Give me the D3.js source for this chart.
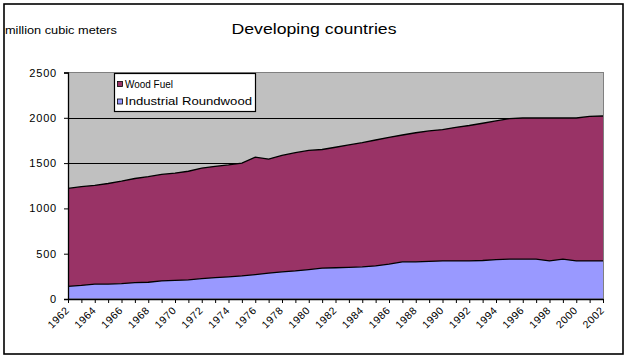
<!DOCTYPE html>
<html><head><meta charset="utf-8">
<script src="https://cdn.jsdelivr.net/npm/d3@7"></script>
<style>body{margin:0;background:#fff}svg{display:block}text{font-family:"Liberation Sans",Arial,sans-serif}</style>
</head><body><svg id="c" width="629" height="359"></svg>
<script>
const years = d3.range(1962, 2003);
const labelYears = [1962,1964,1966,1968,1970,1972,1974,1976,1978,1980,1982,1984,1986,1988,1990,1992,1994,1996,1998,2000,2002];
const industrialRoundwood = [140,150,165,165,170,180,185,200,205,210,225,235,245,255,270,285,300,310,325,340,345,350,355,365,385,410,410,415,420,420,420,425,435,440,440,440,420,440,420,420,420];
const woodFuel = [1080,1090,1090,1110,1130,1150,1165,1175,1185,1200,1220,1230,1235,1245,1295,1260,1285,1305,1315,1310,1330,1350,1370,1390,1400,1400,1425,1440,1450,1475,1495,1515,1530,1550,1558,1558,1578,1558,1578,1595,1600];
const yTicks = [0,500,1000,1500,2000,2500];
const seriesNames = ["Wood Fuel","Industrial Roundwood"];
const colors = {"Wood Fuel":"#993366","Industrial Roundwood":"#9999FF"};

const svg = d3.select("#c");
const L = 68, R = 603, T = 72.5, B = 299;
const x = d3.scaleLinear().domain([1962, 2002]).range([L, R]);
const y = d3.scaleLinear().domain([0, 2500]).range([B, T]);

// outer border
svg.append("rect").attr("x",4).attr("y",4).attr("width",619).attr("height",350)
  .attr("fill","#fff").attr("stroke","#000").attr("stroke-width",1.6);

// titles
svg.append("text").attr("x",314).attr("y",34).attr("text-anchor","middle")
  .attr("font-size",15).attr("textLength",165).attr("lengthAdjust","spacingAndGlyphs")
  .text("Developing countries");
svg.append("text").attr("x",5).attr("y",34).attr("font-size",10)
  .attr("textLength",112).attr("lengthAdjust","spacingAndGlyphs")
  .text("million cubic meters");

// plot background
svg.append("rect").attr("x",L).attr("y",T).attr("width",R-L).attr("height",B-T).attr("fill","#C0C0C0");

// gridlines
svg.append("g").selectAll("line").data(yTicks.filter(d=>d>0 && d<2500)).join("line")
  .attr("x1",L).attr("x2",R).attr("y1",d=>Math.round(y(d))+0.5).attr("y2",d=>Math.round(y(d))+0.5)
  .attr("stroke","#000").attr("stroke-width",1);

// stacked data
const rows = years.map((yr,i)=>({year:yr,"Industrial Roundwood":industrialRoundwood[i],"Wood Fuel":woodFuel[i]}));
const stack = d3.stack().keys(["Industrial Roundwood","Wood Fuel"])(rows);
const area = d3.area().x(d=>x(d.data.year)).y0(d=>y(d[0])).y1(d=>y(d[1]));
const line = d3.line().x(d=>x(d.data.year)).y(d=>y(d[1]));
svg.append("g").selectAll("path").data(stack).join("path")
  .attr("d",area).attr("fill",d=>colors[d.key]);
svg.append("g").selectAll("path").data(stack).join("path")
  .attr("d",line).attr("fill","none").attr("stroke","#000").attr("stroke-width",1.3);

// plot frame
svg.append("rect").attr("x",L+0.5).attr("y",T).attr("width",R-L).attr("height",B-T)
  .attr("fill","none").attr("stroke","#808080").attr("stroke-width",1);

// y axis
const ya = svg.append("g").attr("transform",`translate(${L},0)`)
  .call(d3.axisLeft(y).tickValues(yTicks).tickSize(4).tickPadding(7).tickFormat(d3.format("d")));
ya.select(".domain").attr("stroke","#000").attr("stroke-width",1.3);
ya.selectAll("line").attr("stroke","#000");
ya.selectAll("text").attr("font-size",11).attr("letter-spacing","0.8px").attr("fill","#000")
  .attr("font-family","'Liberation Sans',Arial,sans-serif");

// x axis
const xa = svg.append("g").attr("transform",`translate(0,${B})`)
  .call(d3.axisBottom(x).tickValues(years).tickSize(4).tickFormat(()=>"").tickSizeOuter(0));
xa.select(".domain").attr("stroke","#000").attr("stroke-width",1.3);
xa.selectAll("line").attr("stroke","#000");
svg.append("g").selectAll("text").data(labelYears).join("text")
  .attr("transform",d=>`translate(${x(d)+2},${B+12}) rotate(-45)`)
  .attr("text-anchor","end").attr("font-size",10.5).attr("letter-spacing","0.5px")
  .text(d=>d);

// legend
const lg = svg.append("g");
lg.append("rect").attr("x",114.5).attr("y",73.5).attr("width",141).attr("height",38)
  .attr("fill","#fff").attr("stroke","#000").attr("stroke-width",1.2);
seriesNames.forEach((n,i)=>{
  const yy = 81.5 + i*17.5;
  lg.append("rect").attr("x",117.5).attr("y",yy).attr("width",5).attr("height",5)
    .attr("fill",colors[n]).attr("stroke","#000").attr("stroke-width",0.8);
  lg.append("text").attr("x",125).attr("y",yy+6).attr("font-size",11)
    .attr("textLength", i===0 ? 48 : 127).attr("lengthAdjust","spacingAndGlyphs").text(n);
});
</script></body></html>
